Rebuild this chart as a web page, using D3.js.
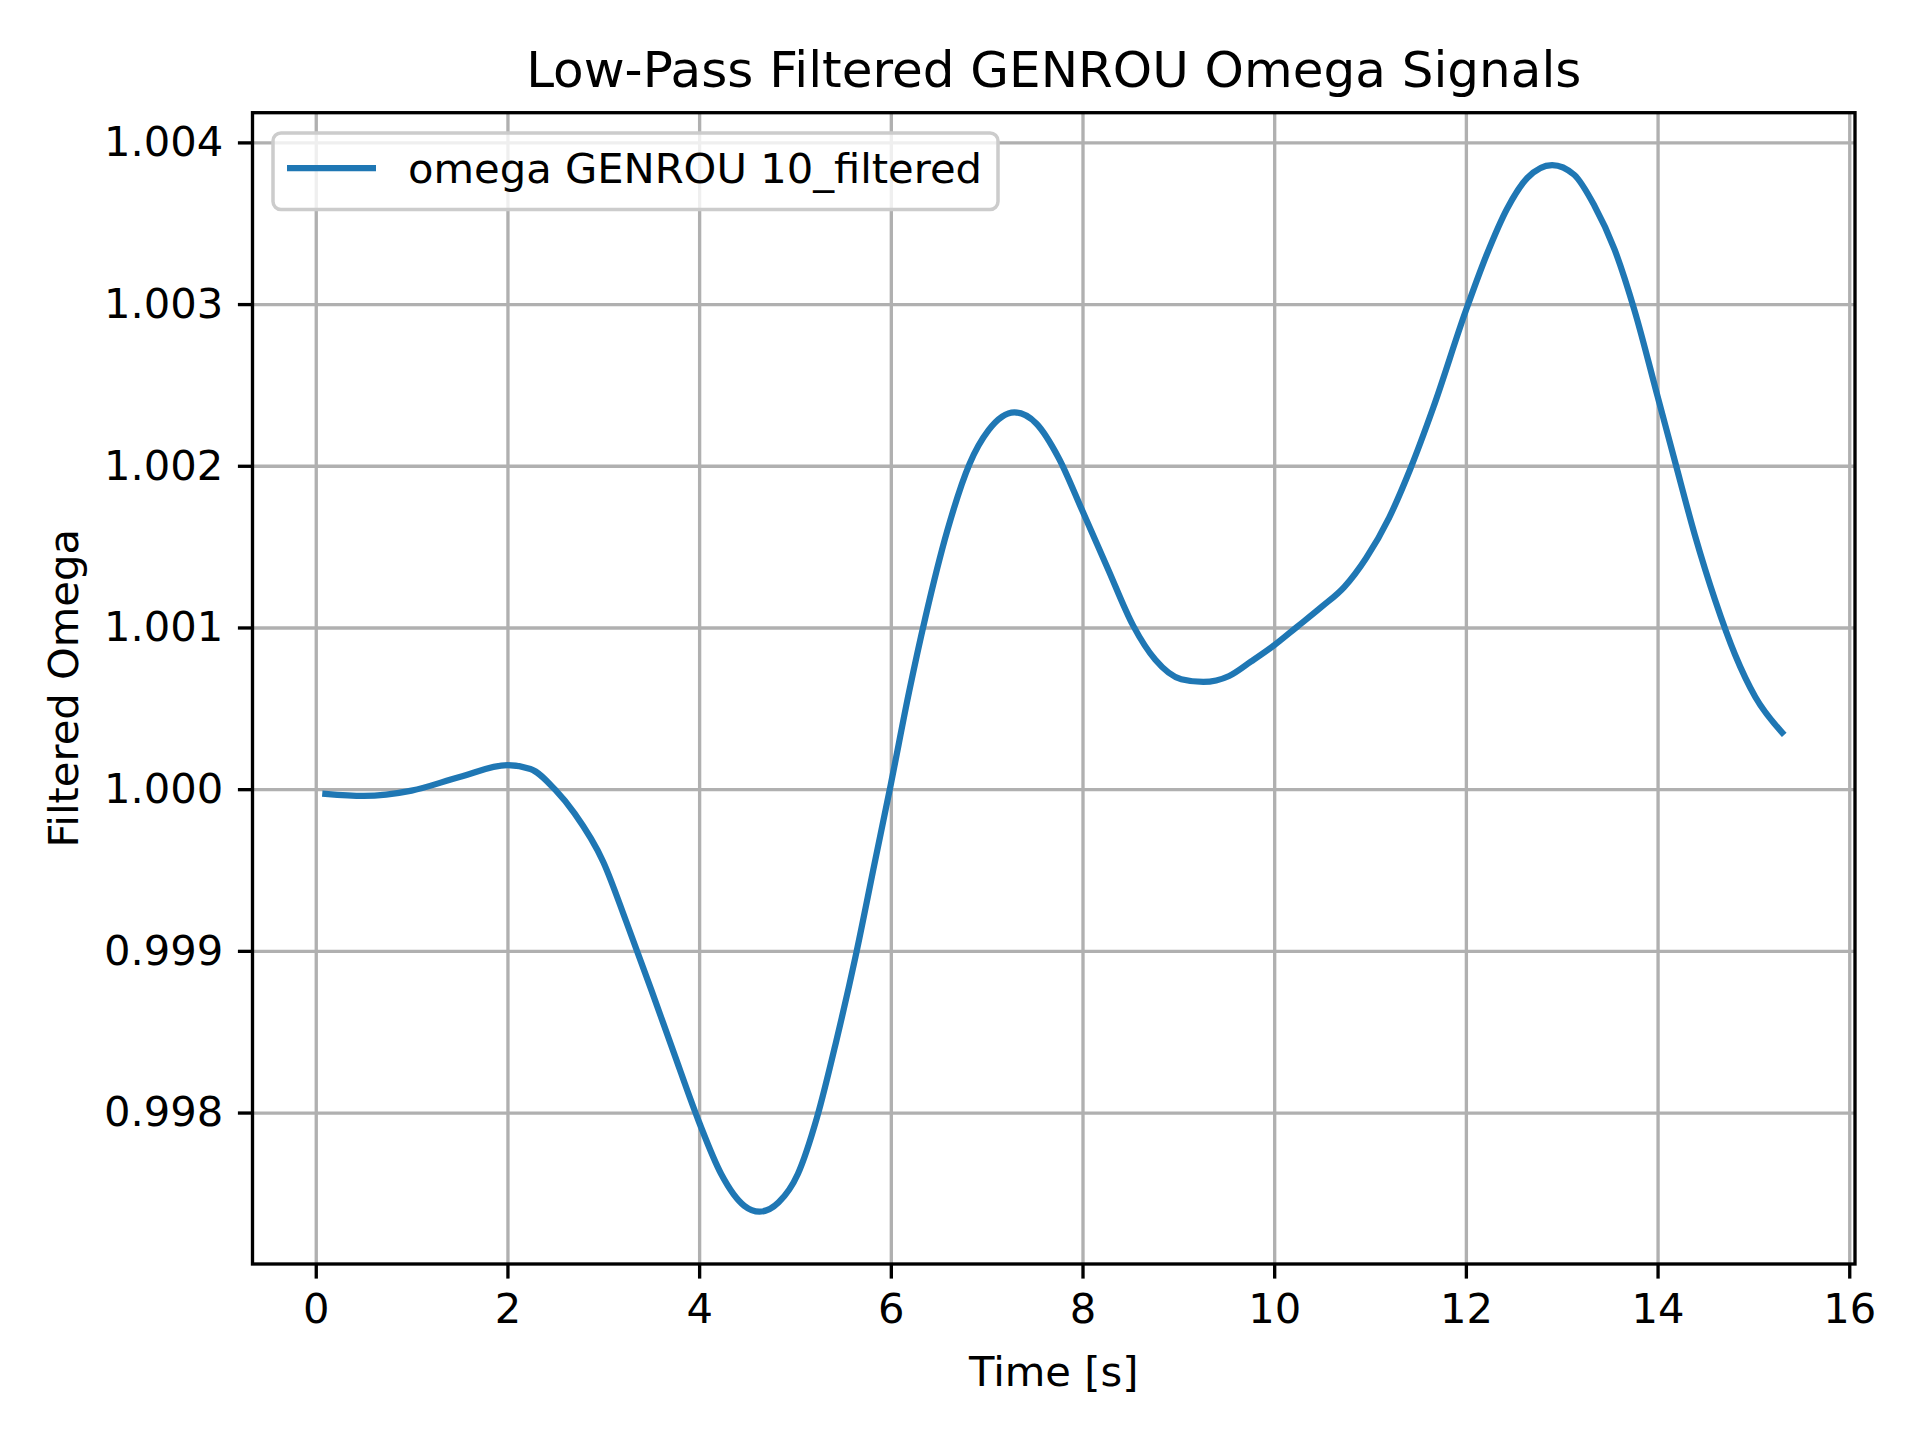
<!DOCTYPE html>
<html>
<head>
<meta charset="utf-8">
<script src="https://cdn.jsdelivr.net/npm/d3@7"></script>
<style>
  html, body { margin: 0; padding: 0; background: #ffffff; }
  svg { display: block; }
  text { font-family: "DejaVu Sans", sans-serif; fill: #000; }
</style>
</head>
<body>
<svg id="chart" width="1920" height="1440"></svg>
<script>
const chartTitle = "Low-Pass Filtered GENROU Omega Signals";
const xLabel = "Time [s]";
const yLabel = "Filtered Omega";
const seriesName = "omega GENROU 10_filtered";

const time = [0.1, 0.5, 1.0, 1.5, 2.0, 2.24, 2.5, 2.7, 3.0, 3.24, 3.5, 3.73, 4.0, 4.23, 4.47, 4.63, 4.83, 5.03, 5.23, 5.43, 5.63, 5.83, 6.0, 6.19, 6.36, 6.59, 6.82, 7.02, 7.29, 7.52, 7.75, 8.0, 8.26, 8.53, 8.76, 9.03, 9.26, 9.53, 9.76, 10.0, 10.23, 10.5, 10.73, 10.96, 11.2, 11.42, 11.66, 12.0, 12.22, 12.43, 12.64, 12.9, 13.13, 13.34, 13.55, 13.76, 14.0, 14.18, 14.39, 14.6, 14.81, 15.02, 15.3];
const omega = [0.999971, 0.999958, 0.999991, 1.000075, 1.000148, 1.000125, 0.999995, 0.999850, 0.999550, 0.999180, 0.998760, 0.998380, 0.997940, 0.997620, 0.997424, 0.997387, 0.997445, 0.997620, 0.997970, 0.998440, 0.998960, 0.999540, 1.000030, 1.000600, 1.001060, 1.001600, 1.002010, 1.002220, 1.002330, 1.002260, 1.002050, 1.001720, 1.001370, 1.001010, 1.000800, 1.000680, 1.000663, 1.000700, 1.000790, 1.000890, 1.001000, 1.001130, 1.001250, 1.001430, 1.001680, 1.001980, 1.002360, 1.002960, 1.003310, 1.003590, 1.003780, 1.003860, 1.003800, 1.003610, 1.003340, 1.002960, 1.002430, 1.002030, 1.001570, 1.001170, 1.000830, 1.000570, 1.000350];

const xTicks = [0, 2, 4, 6, 8, 10, 12, 14, 16];
const yTicks = [0.998, 0.999, 1.000, 1.001, 1.002, 1.003, 1.004];

const W = 1920, H = 1440;
const margin = { left: 252.5, right: W - 1855, top: 112.7, bottom: H - 1264 };
const pw = W - margin.left - margin.right;
const ph = H - margin.top - margin.bottom;

const data = time.map((t, i) => ({ t, v: omega[i] }));

function padded(ext) {
  const r = ext[1] - ext[0];
  return [ext[0] - 0.05 * r, ext[1] + 0.05 * r];
}
const x = d3.scaleLinear().domain(padded(d3.extent(time))).range([0, pw]);
const y = d3.scaleLinear().domain(padded(d3.extent(omega))).range([ph, 0]);

const svg = d3.select("#chart");
svg.append("rect").attr("width", W).attr("height", H).attr("fill", "#fff");
const g = svg.append("g").attr("transform", `translate(${margin.left},${margin.top})`);

const tickFont = 41.67;
const gridColor = "#b0b0b0";

// grid
g.append("g").attr("class", "xgrid")
  .attr("transform", `translate(0,${ph})`)
  .call(d3.axisBottom(x).tickValues(xTicks).tickSize(-ph).tickFormat(""))
  .call(s => s.select(".domain").remove())
  .call(s => s.selectAll("line").attr("stroke", gridColor).attr("stroke-width", 3.33));
g.append("g").attr("class", "ygrid")
  .call(d3.axisLeft(y).tickValues(yTicks).tickSize(-pw).tickFormat(""))
  .call(s => s.select(".domain").remove())
  .call(s => s.selectAll("line").attr("stroke", gridColor).attr("stroke-width", 3.33));

// line
const line = d3.line().x(d => x(d.t)).y(d => y(d.v)).curve(d3.curveMonotoneX);
g.append("path").datum(data)
  .attr("fill", "none")
  .attr("stroke", "#1f77b4")
  .attr("stroke-width", 6.25)
  .attr("stroke-linejoin", "round")
  .attr("stroke-linecap", "square")
  .attr("d", line);

// axes
const xAxis = g.append("g")
  .attr("transform", `translate(0,${ph})`)
  .call(d3.axisBottom(x).tickValues(xTicks).tickSize(14.6).tickPadding(14.6).tickFormat(d3.format("d")));
const yAxis = g.append("g")
  .call(d3.axisLeft(y).tickValues(yTicks).tickSize(14.6).tickPadding(14.6).tickFormat(d3.format(".3f")));
[xAxis, yAxis].forEach(a => {
  a.select(".domain").remove();
  a.selectAll("line").attr("stroke", "#000").attr("stroke-width", 3.33);
  a.selectAll("text").attr("font-size", tickFont).attr("font-family", "DejaVu Sans").attr("fill", "#000");
});

// spines
g.append("rect").attr("x", 0).attr("y", 0).attr("width", pw).attr("height", ph)
  .attr("fill", "none").attr("stroke", "#000").attr("stroke-width", 3.33);

// title
svg.append("text")
  .attr("x", margin.left + pw / 2).attr("y", 87)
  .attr("text-anchor", "middle").attr("font-size", 50)
  .text(chartTitle);

// x label
svg.append("text")
  .attr("x", margin.left + pw / 2).attr("y", 1386)
  .attr("text-anchor", "middle").attr("font-size", tickFont)
  .text(xLabel);

// y label
svg.append("text")
  .attr("transform", `translate(78,${margin.top + ph / 2}) rotate(-90)`)
  .attr("text-anchor", "middle").attr("font-size", tickFont)
  .text(yLabel);

// legend
const lg = svg.append("g").attr("transform", "translate(273,133)");
lg.append("rect").attr("x", 0).attr("y", 0).attr("width", 725).attr("height", 76.5)
  .attr("rx", 8).attr("ry", 8)
  .attr("fill", "#fff").attr("fill-opacity", 0.8)
  .attr("stroke", "#cccccc").attr("stroke-width", 3.5);
lg.append("line").attr("x1", 14).attr("x2", 103).attr("y1", 35).attr("y2", 35)
  .attr("stroke", "#1f77b4").attr("stroke-width", 6.25);
lg.append("text").attr("x", 135).attr("y", 50).attr("font-size", tickFont).text(seriesName);
</script>
</body>
</html>
